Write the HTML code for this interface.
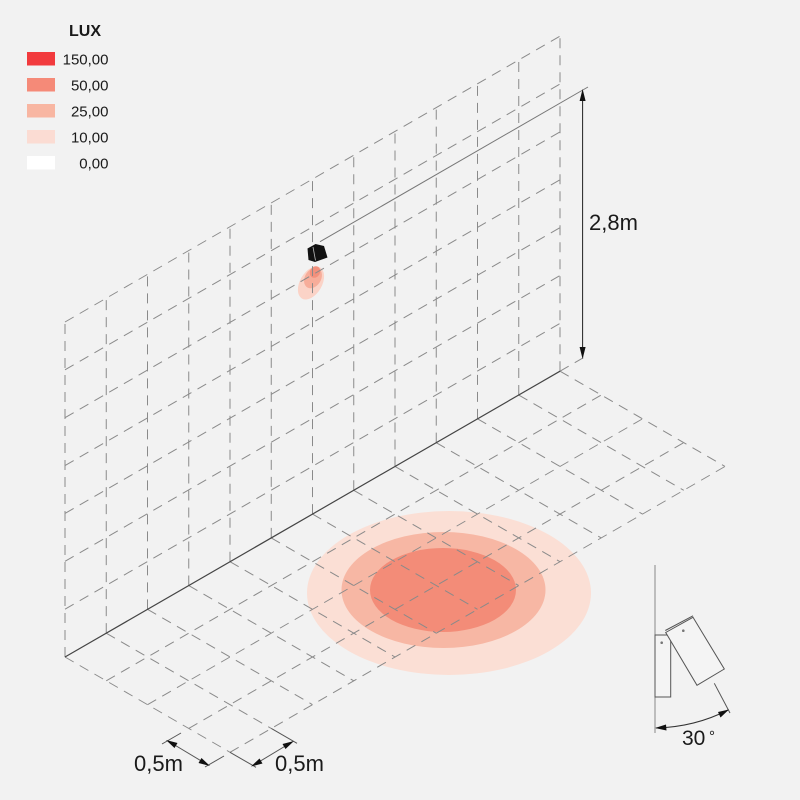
<!DOCTYPE html>
<html>
<head>
<meta charset="utf-8">
<style>
html,body{margin:0;padding:0;background:#f2f2f2;}
svg{display:block;}
text{font-family:"Liberation Sans",Arial,sans-serif;fill:#1a1a1a;}
</style>
</head>
<body>
<svg width="800" height="800" viewBox="0 0 800 800" xmlns="http://www.w3.org/2000/svg">
<rect width="800" height="800" fill="#f2f2f2"/>

<!-- floor light ellipses -->
<ellipse cx="449" cy="593" rx="142" ry="82" fill="#fbdfd5"/>
<ellipse cx="443.5" cy="590" rx="102" ry="58" fill="#f7b7a4"/>
<ellipse cx="443" cy="590" rx="73" ry="42" fill="#f38c78"/>

<!-- wall glow -->
<g transform="translate(311,283) rotate(30)">
<ellipse cx="0" cy="0" rx="11" ry="18" fill="#fbd3c7"/>
</g>
<g transform="translate(313,278) rotate(32)">
<ellipse cx="0" cy="0" rx="8" ry="11" fill="#f7ad9a"/>
</g>
<g transform="translate(315,272) rotate(30)">
<ellipse cx="0" cy="0" rx="5" ry="6" fill="#f3907c"/>
</g>

<g id="grid" stroke="#8a8a8a" stroke-width="1" fill="none" stroke-dasharray="10 7">
<!-- wall verticals -->
<line x1="65" y1="657" x2="65" y2="322"/>
<line x1="106.25" y1="633.18" x2="106.25" y2="298.18"/>
<line x1="147.5" y1="609.37" x2="147.5" y2="274.37"/>
<line x1="188.75" y1="585.55" x2="188.75" y2="250.55"/>
<line x1="230" y1="561.74" x2="230" y2="226.74"/>
<line x1="271.25" y1="537.92" x2="271.25" y2="202.92"/>
<line x1="312.5" y1="514.1" x2="312.5" y2="179.1"/>
<line x1="353.75" y1="490.29" x2="353.75" y2="155.29"/>
<line x1="395" y1="466.47" x2="395" y2="131.47"/>
<line x1="436.25" y1="442.66" x2="436.25" y2="107.66"/>
<line x1="477.5" y1="418.84" x2="477.5" y2="83.84"/>
<line x1="518.75" y1="395.02" x2="518.75" y2="60.02"/>
<line x1="560" y1="371.2" x2="560" y2="36.2"/>
<!-- wall rows -->
<line x1="65" y1="609.14" x2="560" y2="323.34"/>
<line x1="65" y1="561.28" x2="560" y2="275.48"/>
<line x1="65" y1="513.42" x2="560" y2="227.62"/>
<line x1="65" y1="465.56" x2="560" y2="179.76"/>
<line x1="65" y1="417.7" x2="560" y2="131.9"/>
<line x1="65" y1="369.84" x2="560" y2="84.04"/>
<line x1="65" y1="322" x2="560" y2="36.2"/>
<!-- floor parallel -->
<line x1="106.25" y1="680.82" x2="601.25" y2="395.02"/>
<line x1="147.5" y1="704.63" x2="642.5" y2="418.83"/>
<line x1="188.75" y1="728.45" x2="683.75" y2="442.65"/>
<line x1="230" y1="752.26" x2="725" y2="466.46"/>
<!-- floor perpendicular -->
<line x1="65" y1="657" x2="230" y2="752.26"/>
<line x1="106.25" y1="633.18" x2="271.25" y2="728.44"/>
<line x1="147.5" y1="609.37" x2="312.5" y2="704.63"/>
<line x1="188.75" y1="585.55" x2="353.75" y2="680.81"/>
<line x1="230" y1="561.74" x2="395" y2="657"/>
<line x1="271.25" y1="537.92" x2="436.25" y2="633.18"/>
<line x1="312.5" y1="514.1" x2="477.5" y2="609.36"/>
<line x1="353.75" y1="490.29" x2="518.75" y2="585.55"/>
<line x1="395" y1="466.47" x2="560" y2="561.73"/>
<line x1="436.25" y1="442.66" x2="601.25" y2="537.92"/>
<line x1="477.5" y1="418.84" x2="642.5" y2="514.1"/>
<line x1="518.75" y1="395.02" x2="683.75" y2="490.28"/>
<line x1="560" y1="371.2" x2="725" y2="466.46"/>
<!-- base extension -->
<line x1="560" y1="371.2" x2="585" y2="356.8"/>
</g>

<!-- wall base solid -->
<line x1="65" y1="657" x2="560" y2="371.2" stroke="#444" stroke-width="1.2"/>

<!-- fixture height line -->
<line x1="320" y1="241.7" x2="588" y2="87" stroke="#777" stroke-width="1"/>

<!-- fixture -->
<polygon points="307.5,248.5 315.5,244 324,246 327.5,257.5 315,262 308.5,260" fill="#111"/>
<line x1="313" y1="247" x2="315.5" y2="260.5" stroke="#bbb" stroke-width="0.8"/>

<!-- 2,8m dimension -->
<line x1="582.6" y1="92" x2="582.6" y2="357" stroke="#222" stroke-width="1"/>
<polygon points="582.6,89 579.6,101 585.6,101" fill="#111"/>
<polygon points="582.6,359 579.6,347 585.6,347" fill="#111"/>
<text x="589" y="230" font-size="22">2,8m</text>

<!-- bottom-left dimension -->
<g stroke="#555" stroke-width="1" fill="none">
<line x1="181" y1="733" x2="162" y2="744"/>
<line x1="224" y1="756" x2="205" y2="767"/>
<line x1="168" y1="741" x2="208" y2="765"/>
<line x1="230" y1="752.3" x2="256" y2="767.3"/>
<line x1="271.3" y1="728.4" x2="297" y2="743.3"/>
<line x1="253" y1="765.5" x2="292" y2="742"/>
</g>
<polygon points="166,740 177.5,743 174.5,748" fill="#111"/>
<polygon points="210,766 198.5,763 201.5,758" fill="#111"/>
<polygon points="251,766.5 259.5,758.5 262.5,763.5" fill="#111"/>
<polygon points="294,741 285.5,749 282.5,744" fill="#111"/>
<text x="134" y="771" font-size="22">0,5m</text>
<text x="275" y="771" font-size="22">0,5m</text>

<!-- bottom-right fixture icon -->
<line x1="655" y1="565" x2="655" y2="733" stroke="#888" stroke-width="1"/>
<rect x="655" y="635" width="15.7" height="62" fill="#f4f4f4" stroke="#555" stroke-width="1"/>
<circle cx="661.7" cy="642.7" r="1.3" fill="#777"/>
<polygon points="665.7,632.5 693,617.3 724.3,669 697,685.3" fill="#f4f4f4" stroke="#555" stroke-width="1"/>
<line x1="665.3" y1="630.5" x2="693" y2="615.8" stroke="#555" stroke-width="1"/>
<circle cx="683.3" cy="630.7" r="1.3" fill="#777"/>
<line x1="714.3" y1="683.3" x2="730" y2="713" stroke="#555" stroke-width="1"/>
<path d="M656 728 Q 695 727 728 710" stroke="#333" stroke-width="1" fill="none"/>
<polygon points="655,728 666,724.5 666.5,730.5" fill="#111"/>
<polygon points="729,709.5 720.5,717.5 718,712" fill="#111"/>
<text x="682" y="745" font-size="21">30</text>
<text x="709" y="741" font-size="15">°</text>

<!-- legend -->
<text x="69" y="36" font-size="16" font-weight="bold">LUX</text>
<rect x="27" y="52" width="28" height="13.5" fill="#f23a3d"/>
<rect x="27" y="78" width="28" height="13.5" fill="#f58a78"/>
<rect x="27" y="104" width="28" height="13.5" fill="#f8b6a2"/>
<rect x="27" y="130" width="28" height="13.5" fill="#fbdcd3"/>
<rect x="27" y="156" width="28" height="13.5" fill="#ffffff"/>
<g font-size="15" text-anchor="end">
<text x="108.5" y="64.5">150,00</text>
<text x="108.5" y="90.5">50,00</text>
<text x="108.5" y="116.5">25,00</text>
<text x="108.5" y="142.5">10,00</text>
<text x="108.5" y="168.5">0,00</text>
</g>
</svg>
</body>
</html>
